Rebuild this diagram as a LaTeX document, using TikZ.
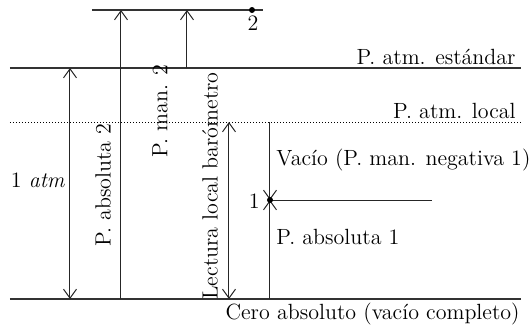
\documentclass[tikz,border=0pt]{standalone}
\usepackage{tikz}
\usetikzlibrary{positioning,arrows.meta}
\begin{document}
\begin{tikzpicture}[
    x=0.5pt, y=-0.5pt,
    font=\fontsize{11}{13}\selectfont,
    level/.style={draw=black!80, line width=0.7pt},
    loclevel/.style={draw=black, line width=0.5pt, densely dotted},
    vline/.style={draw=black!85, line width=0.5pt},
    uparr/.style={vline, -{Straight Barb[length=4.5pt,width=6.5pt]}},
    dimarr/.style={vline, {Straight Barb[length=4.5pt,width=6.5pt]}-{Straight Barb[length=4.5pt,width=6.5pt]}},
    lbl/.style={inner sep=1pt},
    vlbl/.style={inner sep=1pt, rotate=90}
  ]
  \useasboundingbox (0,0) rectangle (532,329);
  % pressure levels
  \coordinate (L2a) at (92,10);   \coordinate (L2b) at (263,10);
  \coordinate (SAa) at (10,68);   \coordinate (SAb) at (521,68);
  \coordinate (LAa) at (10,122);  \coordinate (LAb) at (521,122);
  \coordinate (Z0a) at (10,299);  \coordinate (Z0b) at (521,299);
  \draw[level] (L2a) -- (L2b);
  \draw[level] (SAa) -- (SAb);
  \draw[loclevel] (LAa) -- (LAb);
  \draw[level] (Z0a) -- (Z0b);
  \node[lbl, anchor=south east] (std) at (518,67) {P. atm. estándar};
  \node[lbl, anchor=south east] (loc) at (518,121) {P. atm. local};
  \node[lbl, anchor=north east] (zero) at (522,301) {Cero absoluto (vacío completo)};
  % point 2
  \coordinate (P2) at (252,10);
  \fill (P2) circle (1.5pt);
  \node[lbl] (n2) at (253,23) {2};
  % 1 atm
  \coordinate (A1) at (70,68);  \coordinate (A2) at (70,299);
  \draw[dimarr] (A2) -- (A1);
  \node[lbl] (atm) at (38,180) {1 \textit{atm}};
  % absolute 2 and gauge 2
  \coordinate (B1) at (121,299); \coordinate (B2) at (121,10);
  \draw[uparr] (B1) -- (B2);
  \node[vlbl] (abs2) at (103,185) {P. absoluta 2};
  \coordinate (C1) at (187,68);  \coordinate (C2) at (187,10);
  \draw[uparr] (C1) -- (C2);
  \node[vlbl] (man2) at (160,111) {P. man. 2};
  % barometer reading
  \coordinate (D1) at (229,122); \coordinate (D2) at (229,299);
  \draw[dimarr] (D2) -- (D1);
  \node[vlbl] (baro) at (210,186) {Lectura local barómetro};
  % point 1
  \coordinate (P1) at (270,200);
  \coordinate (E1) at (270,122); \coordinate (E2) at (270,299);
  \coordinate (F1) at (432,200);
  \draw[vline, -{Straight Barb[length=4.5pt,width=6.5pt]}] (E1) -- (P1);
  \draw[vline, -{Straight Barb[length=4.5pt,width=6.5pt]}] (E2) -- (P1);
  \draw[vline] (P1) -- (F1);
  \fill (P1) circle (1.5pt);
  \node[lbl, anchor=east] (n1) at (262,201) {1};
  \node[lbl, anchor=west] (vac) at (274,160) {Vacío (P. man. negativa 1)};
  \node[lbl, anchor=west] (abs1) at (274,237) {P. absoluta 1};
\end{tikzpicture}
\end{document}
